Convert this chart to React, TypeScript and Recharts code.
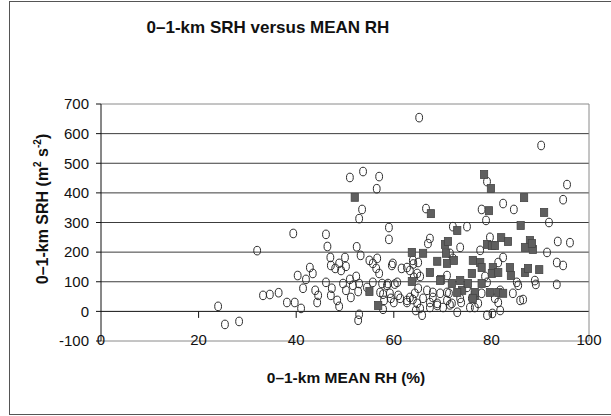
import { ScatterChart, Scatter, XAxis, YAxis, ReferenceLine } from "recharts";

const xTicks = [0, 20, 40, 60, 80, 100];
const yTicks = [-100, 0, 100, 200, 300, 400, 500, 600, 700];
const xTickMarks = [20, 40, 60, 80];

// open circles: [mean RH %, SRH]
const openPts: [number, number][] = [
  [24.0, 17], [25.4, -44], [28.3, -34], [32.0, 205], [33.2, 54], [34.6, 57], [36.4, 63],
  [38.1, 30], [39.7, 30], [39.4, 263], [40.3, 121], [41.0, 10], [41.4, 78], [42.0, 108],
  [42.8, 148], [43.4, 128], [43.9, 71], [44.5, 54], [44.3, 30], [46.1, 260], [46.4, 219],
  [46.1, 98], [47.0, 182], [47.1, 155], [47.3, 78], [47.1, 54], [48.0, 145], [48.4, 37],
  [48.8, 162], [48.8, 17], [49.2, 138], [49.6, 94], [50.0, 182], [50.2, 152], [50.2, 71],
  [51.0, 452], [51.0, 108], [51.6, 88], [51.2, 47], [52.4, 218], [52.3, 118], [52.9, 313],
  [53.5, 344], [53.7, 472], [52.9, 94], [52.7, 67], [52.7, -30], [52.9, -10], [53.2, 189],
  [54.5, 81], [55.0, 172], [55.7, 162], [55.7, 98], [56.6, 179], [56.4, 145], [56.5, 414],
  [57.0, 455], [57.0, 128], [57.2, 64], [57.8, 7], [58.0, 37], [58.8, 94], [59.0, 283],
  [59.0, 243], [59.6, 155], [59.2, 61], [60.0, 30], [60.7, 98], [60.9, 54], [62.7, 30],
  [63.3, 47], [63.3, 138], [64.1, 115], [64.5, 3], [65.0, 78], [65.2, 654], [66.6, 347],
  [67.4, 246], [67.0, 229], [64.3, 61], [64.8, 27], [65.4, 10], [65.8, -13], [66.0, 44],
  [66.8, 71], [67.4, 13], [68.0, 47], [68.9, 27], [69.5, 61], [70.1, 13], [70.9, 37],
  [71.3, 61], [71.9, 27], [73.0, -3], [73.6, 44], [75.0, 81], [75.6, 13], [76.0, 44],
  [76.6, 13], [77.3, 27], [78.0, 61], [79.1, 98], [78.7, 118], [80.7, 44], [81.4, 30],
  [81.8, 3], [79.1, -13], [80.2, -7], [81.8, 71], [82.4, 182], [81.4, 165], [84.4, 61],
  [85.9, 37], [86.5, 40], [85.2, 98], [85.5, 88], [88.9, 104], [89.1, 91], [93.4, 91],
  [91.4, 199], [93.4, 165], [94.7, 155], [93.6, 236], [96.1, 232], [90.2, 560], [95.5, 428],
  [94.7, 377], [91.8, 300], [78.0, 344], [82.4, 364], [84.6, 344], [78.9, 307], [79.1, 438],
  [72.1, 286], [75.0, 286], [79.7, 250], [73.6, 216], [77.7, 206], [63.9, 172], [65.0, 165],
  [64.8, 128], [65.4, 118], [71.5, 196], [72.1, 179], [70.9, 121], [59.8, 162], [61.6, 145],
  [62.7, 148], [64.0, 160], [57.6, 94], [58.6, 88], [60.2, 92], [57.8, 58], [59.4, 44],
  [61.3, 44], [62.7, 37], [63.9, 40], [68.0, 64], [70.9, 64], [67.4, 30], [68.9, 20],
  [71.5, 22], [73.8, 30],
];

// filled squares: [mean RH %, SRH]
const filledPts: [number, number][] = [
  [52.0, 385], [55.0, 67], [56.8, 20], [63.7, 199], [63.7, 101], [66.0, 196], [67.4, 131],
  [67.6, 330], [68.9, 169], [69.7, 108], [70.5, 226], [71.1, 236], [70.7, 196], [70.9, 162],
  [72.3, 172], [71.9, 94], [73.0, 273], [73.6, 104], [74.0, 71], [73.0, 64], [75.2, 94],
  [76.0, 128], [76.2, 172], [76.6, 54], [76.6, 64], [76.2, 44], [77.7, 165], [78.0, 148],
  [78.0, 94], [78.5, 462], [79.9, 415], [79.5, 340], [79.1, 226], [80.1, 222], [80.7, 222],
  [80.3, 148], [80.1, 128], [79.7, 64], [81.4, 131], [81.4, 64], [82.4, 61], [82.0, 249],
  [83.4, 236], [83.8, 148], [84.0, 121], [86.7, 384], [86.0, 290], [87.9, 239], [86.9, 216],
  [88.5, 209], [88.3, 229], [86.9, 131], [87.5, 145], [89.8, 141], [90.8, 334], [69.5, 104],
];

const toRows = (pts: [number, number][]) => pts.map(([x, y]) => ({ x, y }));

const OpenMarker = (p: any) => (
  <ellipse cx={p.cx} cy={p.cy} rx={3.4} ry={4.3} fill="none" stroke="#2a2a2a" strokeWidth={1} />
);

const FilledMarker = (p: any) => (
  <rect x={p.cx - 3.6} y={p.cy - 4} width={7.2} height={8} fill="#5f5f5f" stroke="#454545" strokeWidth={0.8} />
);

const XTick = ({ x, y, payload }: any) => (
  <text x={x} y={y + 4} textAnchor="middle" fontSize={15} fill="#111">
    {payload.value}
  </text>
);

const gridColor = (v: number) => {
  if (v === 0) return "#111";
  if (v === -100 || v === 700) return "#8a8a8a";
  return "#3c3c3c";
};

export default function App() {
  return (
    <div
      style={{
        position: "absolute",
        left: 0,
        top: 0,
        width: 611,
        height: 416,
        overflow: "hidden",
        background: "#fff",
        fontFamily: "'Liberation Sans', Arial, sans-serif",
        color: "#111",
      }}
    >
      <div
        style={{
          position: "absolute",
          left: 9,
          top: 1,
          width: 640,
          height: 412,
          border: "1px solid #555",
        }}
      />
      <div
        style={{
          position: "absolute",
          left: 268,
          top: 19,
          transform: "translateX(-50%)",
          fontSize: 17,
          lineHeight: "17px",
          fontWeight: "bold",
          whiteSpace: "nowrap",
        }}
      >
        0–1-km SRH versus MEAN RH
      </div>
      <div style={{ position: "absolute", left: 0, top: 0 }}>
        <ScatterChart width={611} height={416} margin={{ top: 104, right: 22, bottom: 45, left: 41 }}>
          {yTicks.map((v) => (
            <ReferenceLine key={"g" + v} y={v} stroke={gridColor(v)} strokeWidth={1} />
          ))}
          <ReferenceLine x={100} stroke="#8a8a8a" />
          {xTickMarks.map((v) => (
            <ReferenceLine
              key={"t" + v}
              segment={[
                { x: v, y: 0 },
                { x: v, y: -22 },
              ]}
              stroke="#111"
            />
          ))}
          <XAxis
            type="number"
            dataKey="x"
            domain={[0, 100]}
            ticks={xTicks}
            interval={0}
            axisLine={false}
            tickLine={false}
            tickSize={0}
            tickMargin={0}
            height={30}
            tick={XTick}
          />
          <YAxis
            type="number"
            dataKey="y"
            domain={[-100, 700]}
            ticks={yTicks}
            interval={0}
            width={60}
            tickSize={5}
            tickMargin={7}
            axisLine={{ stroke: "#111" }}
            tickLine={{ stroke: "#111" }}
            tick={{ fontSize: 15, fill: "#111" }}
          />
          <Scatter data={toRows(openPts)} dataKey="y" shape={OpenMarker} isAnimationActive={false} />
          <Scatter data={toRows(filledPts)} dataKey="y" shape={FilledMarker} isAnimationActive={false} />
        </ScatterChart>
      </div>
      <div
        style={{
          position: "absolute",
          left: 40,
          top: 209,
          transform: "translate(-50%, -50%) rotate(-90deg)",
          fontSize: 16,
          lineHeight: "16px",
          fontWeight: "bold",
          whiteSpace: "nowrap",
        }}
      >
        0–1-km SRH (m<span style={{ fontSize: 10, verticalAlign: "7px" }}>2</span> s
        <span style={{ fontSize: 10, verticalAlign: "7px" }}>-2</span>)
      </div>
      <div
        style={{
          position: "absolute",
          left: 346,
          top: 370,
          transform: "translateX(-50%)",
          fontSize: 15.5,
          lineHeight: "15.5px",
          fontWeight: "bold",
          whiteSpace: "nowrap",
        }}
      >
        0–1-km MEAN RH (%)
      </div>
    </div>
  );
}
